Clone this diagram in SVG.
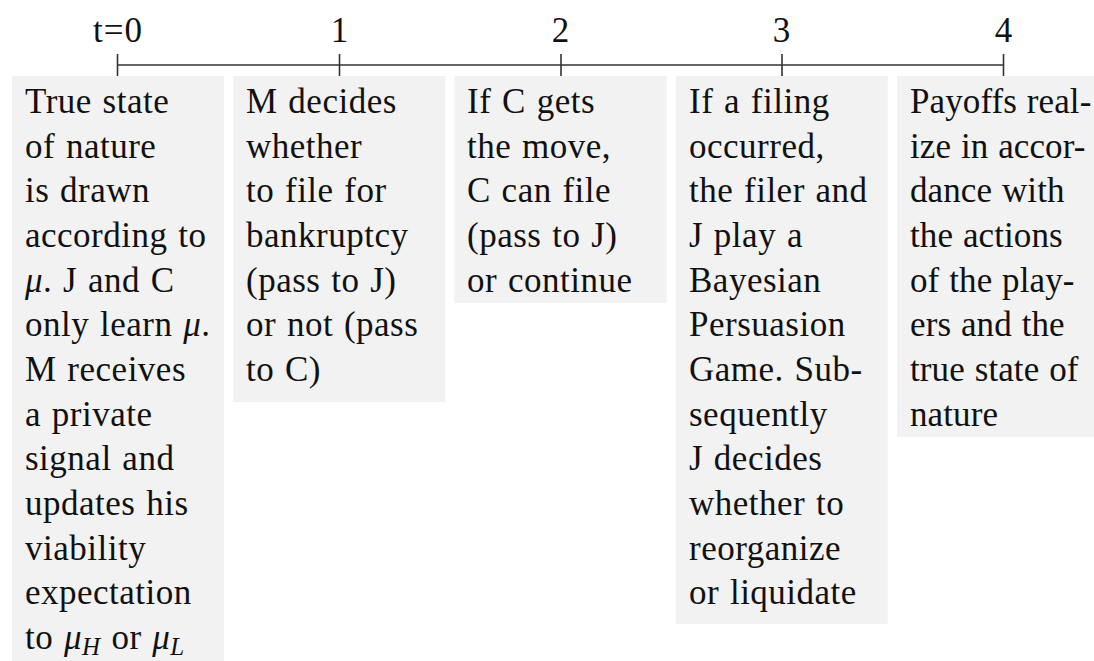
<svg xmlns="http://www.w3.org/2000/svg" width="1094" height="661" viewBox="0 0 1094 661">
<style>
.box{fill:#f2f2f2;stroke:none}
.t{font-family:"Liberation Serif","Times New Roman",serif;font-size:35px;fill:#111;letter-spacing:0.5px;word-spacing:1.5px}
.tn{letter-spacing:0.1px;word-spacing:1px}
.lbl{font-family:"Liberation Serif","Times New Roman",serif;font-size:35px;fill:#111;text-anchor:middle;letter-spacing:1px}
.m{font-style:italic}
.axis{stroke:#333;stroke-width:1.6;fill:none}
</style>
<rect width="1094" height="661" fill="#fff"/>
<g id="timeline">
<line class="axis" x1="117.5" y1="65" x2="1003.5" y2="65"/>
<line class="axis" x1="117.5" y1="54" x2="117.5" y2="76"/>
<line class="axis" x1="339.5" y1="54" x2="339.5" y2="76"/>
<line class="axis" x1="561" y1="54" x2="561" y2="76"/>
<line class="axis" x1="782" y1="54" x2="782" y2="76"/>
<line class="axis" x1="1003.5" y1="54" x2="1003.5" y2="76"/>
<text class="lbl" x="118" y="42">t=0</text>
<text class="lbl" x="340" y="42">1</text>
<text class="lbl" x="561" y="42">2</text>
<text class="lbl" x="782" y="42">3</text>
<text class="lbl" x="1004" y="42">4</text>
</g>
<g id="step0">
<rect class="box" x="12" y="76" width="212" height="595"/>
<text class="t" x="25" y="113">
<tspan x="25">True state</tspan>
<tspan x="25" dy="44.67">of nature</tspan>
<tspan x="25" dy="44.67">is drawn</tspan>
<tspan x="25" dy="44.67">according to</tspan>
<tspan x="25" dy="44.67"><tspan class="m">μ</tspan>.  J and C</tspan>
<tspan x="25" dy="44.67">only learn <tspan class="m">μ</tspan>.</tspan>
<tspan x="25" dy="44.67">M receives</tspan>
<tspan x="25" dy="44.67">a private</tspan>
<tspan x="25" dy="44.67">signal and</tspan>
<tspan x="25" dy="44.67">updates his</tspan>
<tspan x="25" dy="44.67">viability</tspan>
<tspan x="25" dy="44.67">expectation</tspan>
<tspan x="25" dy="44.67">to <tspan class="m">μ</tspan><tspan class="m" font-size="25" dy="6">H</tspan><tspan dy="-6"> or </tspan><tspan class="m">μ</tspan><tspan class="m" font-size="25" dy="6">L</tspan></tspan>
</text>
</g>
<g id="step1">
<rect class="box" x="233.25" y="76" width="212" height="326"/>
<text class="t" x="246" y="113">
<tspan x="246">M decides</tspan>
<tspan x="246" dy="44.67">whether</tspan>
<tspan x="246" dy="44.67">to file for</tspan>
<tspan x="246" dy="44.67">bankruptcy</tspan>
<tspan x="246" dy="44.67">(pass to J)</tspan>
<tspan x="246" dy="44.67">or not (pass</tspan>
<tspan x="246" dy="44.67">to C)</tspan>
</text>
</g>
<g id="step2">
<rect class="box" x="454.5" y="76" width="212" height="227"/>
<text class="t" x="467" y="113">
<tspan x="467">If C gets</tspan>
<tspan x="467" dy="44.67">the move,</tspan>
<tspan x="467" dy="44.67">C can file</tspan>
<tspan x="467" dy="44.67">(pass to J)</tspan>
<tspan x="467" dy="44.67">or continue</tspan>
</text>
</g>
<g id="step3">
<rect class="box" x="675.75" y="76" width="212" height="548"/>
<text class="t" x="689" y="113">
<tspan x="689">If a filing</tspan>
<tspan x="689" dy="44.67">occurred,</tspan>
<tspan x="689" dy="44.67">the filer and</tspan>
<tspan x="689" dy="44.67">J play a</tspan>
<tspan x="689" dy="44.67">Bayesian</tspan>
<tspan x="689" dy="44.67">Persuasion</tspan>
<tspan x="689" dy="44.67">Game.  Sub-</tspan>
<tspan x="689" dy="44.67">sequently</tspan>
<tspan x="689" dy="44.67">J decides</tspan>
<tspan x="689" dy="44.67">whether to</tspan>
<tspan x="689" dy="44.67">reorganize</tspan>
<tspan x="689" dy="44.67">or liquidate</tspan>
</text>
</g>
<g id="step4">
<rect class="box" x="897" y="76" width="212" height="361"/>
<text class="t tn" x="910" y="113">
<tspan x="910">Payoffs real-</tspan>
<tspan x="910" dy="44.67">ize in accor-</tspan>
<tspan x="910" dy="44.67">dance with</tspan>
<tspan x="910" dy="44.67">the actions</tspan>
<tspan x="910" dy="44.67">of the play-</tspan>
<tspan x="910" dy="44.67">ers and the</tspan>
<tspan x="910" dy="44.67">true state of</tspan>
<tspan x="910" dy="44.67">nature</tspan>
</text>
</g>
</svg>
